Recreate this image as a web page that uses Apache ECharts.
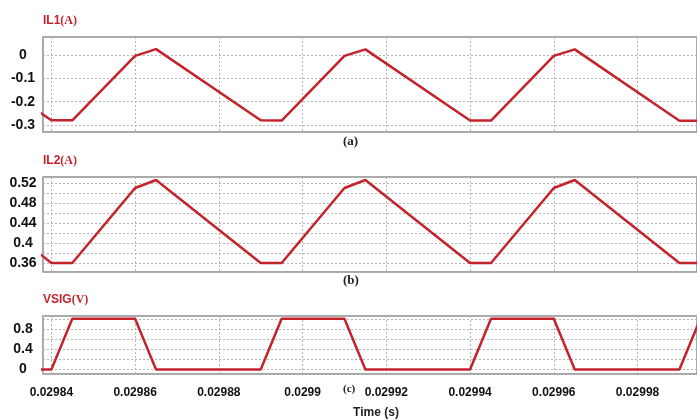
<!DOCTYPE html>
<html>
<head>
<meta charset="utf-8">
<script src="https://cdn.jsdelivr.net/npm/echarts@6/dist/echarts.min.js"></script>
<style>
  html, body { margin: 0; padding: 0; background: #fff; }
  #chart { width: 697px; height: 420px; }
</style>
</head>
<body>
<div id="chart"></div>
<script>
// time points (s), one corner of the waveforms per entry
const timeS = [0.029815, 0.02984, 0.029845, 0.02986, 0.029865, 0.02989, 0.029895,
  0.02991, 0.029915, 0.02994, 0.029945, 0.02996, 0.029965, 0.02999, 0.029995]
const il1 = [0.025, -0.28, -0.28, -0.004, 0.025, -0.28, -0.281, -0.004, 0.024,
  -0.281, -0.281, -0.004, 0.024, -0.282, -0.282]
const il2 = [0.526, 0.36, 0.36, 0.51, 0.526, 0.36, 0.36, 0.51, 0.526, 0.36, 0.36,
  0.51, 0.526, 0.36, 0.36]
const vsig = [0, 0, 1, 1, 0, 0, 1, 1, 0, 0, 1, 1, 0, 0, 1]

// tick labels that are printed on each y axis
const il1Labels = [0, -0.1, -0.2, -0.3]
const il2Labels = [0.36, 0.4, 0.44, 0.48, 0.52]
const vsigLabels = [0, 0.4, 0.8]

const RED = '#c4232b'
const chart = echarts.init(document.getElementById('chart'))

function pairs(ys) {
  return timeS.map((t, i) => [t, ys[i]])
}

function labelFrom(list) {
  return (v) => {
    const hit = list.find((x) => Math.abs(x - v) < 1e-6)
    return hit === undefined ? '' : String(hit)
  }
}

const gridBase = { left: 43, right: 0, show: true, borderColor: '#8c8c8c', borderWidth: 1.5, backgroundColor: '#fff' }
const dotted = { show: true, lineStyle: { color: '#b4b4b4', type: [2, 2], width: 1 } }

function xAxisFor(gridIndex, showLabels) {
  return {
    type: 'value',
    gridIndex,
    min: 0.029838,
    max: 0.0299942,
    minInterval: 0.00002,
    maxInterval: 0.00002,
    axisLine: { show: false },
    axisTick: { show: false },
    splitLine: dotted,
    axisLabel: {
      show: showLabels,
      showMinLabel: false,
      showMaxLabel: false,
      color: '#111',
      fontWeight: 'bold',
      fontSize: 12,
      fontFamily: 'Liberation Sans',
      margin: 13,
      formatter: (v) => String(+v.toFixed(5))
    },
    name: showLabels ? 'Time (s)' : '',
    nameLocation: 'middle',
    nameGap: 33,
    nameTextStyle: { color: '#222', fontWeight: 'bold', fontSize: 12, fontFamily: 'Liberation Sans', padding: [0, 0, 0, 12] }
  }
}

function yAxisFor(gridIndex, min, max, step, labels) {
  return {
    type: 'value',
    gridIndex,
    min,
    max,
    minInterval: step,
    maxInterval: step,
    axisLine: { show: false },
    axisTick: { show: false },
    splitLine: dotted,
    axisLabel: {
      showMinLabel: false,
      showMaxLabel: false,
      align: 'center',
      margin: 20,
      color: '#111',
      fontWeight: 'bold',
      fontSize: 14,
      fontFamily: 'Liberation Sans',
      formatter: labelFrom(labels)
    }
  }
}

function titleFor(name, unit, top) {
  return {
    text: '{a|' + name + '}{b|(' + unit + ')}',
    left: 43,
    top,
    padding: 0,
    textStyle: {
      rich: {
        a: { color: RED, fontWeight: 'bold', fontSize: 12, fontFamily: 'Liberation Sans' },
        b: { color: RED, fontWeight: 'bold', fontSize: 12, fontFamily: 'Liberation Serif' }
      }
    }
  }
}

function tagFor(text, top, size) {
  return {
    text,
    left: 343,
    top,
    padding: 0,
    textStyle: { color: '#222', fontWeight: 'bold', fontSize: size, fontFamily: 'Liberation Serif' }
  }
}

function lineFor(ys, idx) {
  return {
    type: 'line',
    xAxisIndex: idx,
    yAxisIndex: idx,
    data: pairs(ys),
    symbol: 'none',
    clip: true,
    lineStyle: { color: RED, width: 2.5 }
  }
}

chart.setOption({
  animation: false,
  backgroundColor: '#fff',
  title: [
    titleFor('IL1', 'A', 15),
    titleFor('IL2', 'A', 155),
    titleFor('VSIG', 'V', 294),
    tagFor('(a)', 135, 13),
    tagFor('(b)', 274, 13),
    tagFor('(c)', 384, 11)
  ],
  grid: [
    Object.assign({ top: 37, height: 95 }, gridBase),
    Object.assign({ top: 177, height: 95 }, gridBase),
    Object.assign({ top: 316, height: 64 }, gridBase)
  ],
  xAxis: [xAxisFor(0, false), xAxisFor(1, false), xAxisFor(2, true)],
  yAxis: [
    yAxisFor(0, -0.33, 0.077, 0.1, il1Labels),
    yAxisFor(1, 0.342, 0.532, 0.02, il2Labels),
    yAxisFor(2, -0.09, 1.055, 0.2, vsigLabels)
  ],
  series: [lineFor(il1, 0), lineFor(il2, 1), lineFor(vsig, 2)]
})
</script>
</body>
</html>
